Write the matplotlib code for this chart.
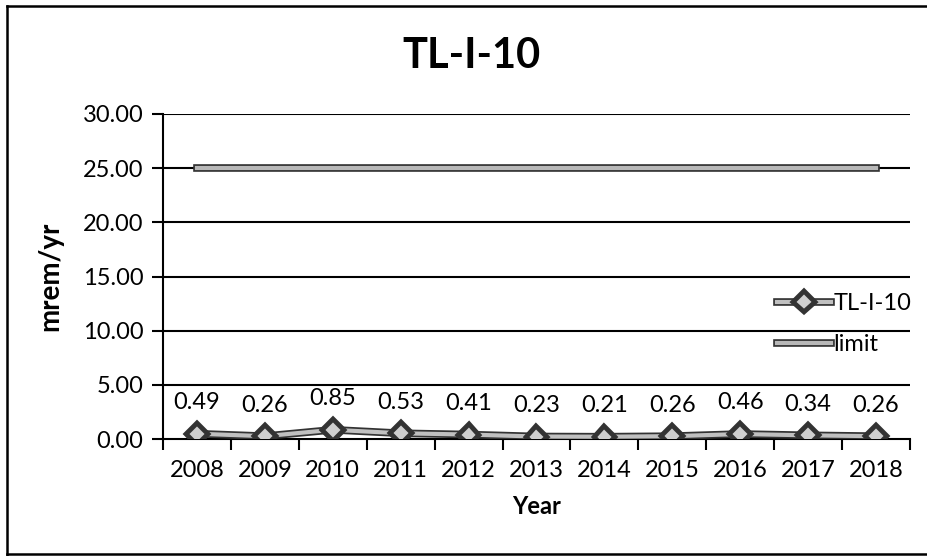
import numpy as np
import matplotlib.pyplot as plt
import matplotlib.patheffects as pe
from matplotlib.lines import Line2D

# data
years = ['2008', '2009', '2010', '2011', '2012', '2013', '2014', '2015', '2016', '2017', '2018']
tl_i_10 = [0.49, 0.26, 0.85, 0.53, 0.41, 0.23, 0.21, 0.26, 0.46, 0.34, 0.26]
limit = [25, 25, 25, 25, 25, 25, 25, 25, 25, 25, 25]
yticks = [0, 5, 10, 15, 20, 25, 30]

plt.rcParams['font.family'] = ['Lato', 'DejaVu Sans']

W, H = 928, 556
fig = plt.figure(figsize=(W / 100, H / 100), dpi=100)
ax = fig.add_axes([163 / W, 1 - 439 / H, (910 - 163) / W, (439 - 114) / H])

x = np.arange(len(years))

# gridlines
for v in yticks[1:]:
    ax.axhline(v, color='black', lw=1.5, zorder=1)

outline = [pe.Stroke(linewidth=5.5, foreground='#333333'), pe.Normal()]
ax.plot(x, limit, color='#b8b8b8', lw=3, path_effects=outline, zorder=3, label='limit')
ax.plot(x, tl_i_10, color='#c0c0c0', lw=3, path_effects=outline, zorder=4,
        marker='D', markersize=9, markerfacecolor='#cfcfcf', markeredgecolor='#333333',
        markeredgewidth=1.5, label='TL-I-10')

for xi, v in zip(x, tl_i_10):
    ax.text(xi, v + 1.9, f'{v:.2f}', ha='center', va='bottom', fontsize=17)

ax.set_xlim(-0.5, len(years) - 0.5)
ax.set_ylim(0, 30)
ax.set_yticks(yticks)
ax.set_yticklabels([f'{v:.2f}' for v in yticks], fontsize=17)
ax.set_xticks(x)
ax.set_xticklabels(years, fontsize=17)
ax.tick_params(axis='x', which='major', length=0, pad=15)
ax.set_xticks(np.arange(-0.5, len(years)), minor=True)
ax.tick_params(axis='x', which='minor', length=8, width=1.5, direction='out')
ax.tick_params(axis='y', length=8, width=1.5, pad=6)

for s in ['top', 'right']:
    ax.spines[s].set_visible(False)
ax.spines['left'].set_linewidth(1.5)
ax.spines['bottom'].set_linewidth(1.5)

ax.set_xlabel('Year', fontsize=17, fontweight='bold', labelpad=10)
ax.set_ylabel('mrem/yr', fontsize=20, fontweight='bold', labelpad=14)
fig.text(472 / W, 1 - 56 / H, 'TL-I-10', ha='center', va='center', fontsize=30, fontweight='bold')

handles, labels = ax.get_legend_handles_labels()
ax.legend(handles[::-1], labels[::-1], loc='center right', bbox_to_anchor=(1.03, 0.354),
          frameon=False, fontsize=17, handlelength=2.3, handletextpad=0.1, labelspacing=0.85)

# outer border (left, top, bottom)
for xs, ys in [([7, 7], [6, 555]), ([7, 928], [6, 6]), ([7, 928], [554, 554])]:
    fig.add_artist(Line2D([a / W for a in xs], [1 - b / H for b in ys], color='black', lw=1.8))

fig.savefig('out.png', dpi=100)
